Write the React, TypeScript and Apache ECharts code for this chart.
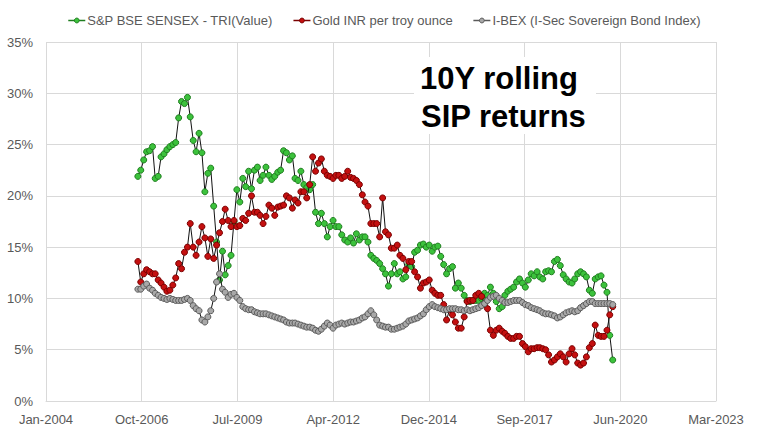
import React, { useEffect, useRef } from "react";
import * as echarts from "echarts";

// ---- data (values in %) ----
const seriesNames = [
  "S&P BSE SENSEX - TRI(Value)",
  "Gold INR per troy ounce",
  "I-BEX (I-Sec Sovereign Bond Index)",
];

// monthly observations, first one Sep-2006
const startYear = 2006;
const startMonth = 8; // 0-based (Sep)

const sensex = [
  21.9, 22.5, 23.5, 24.3, 24.4, 24.8, 21.7, 21.9, 23.8, 24.1,
  24.5, 24.8, 25.0, 25.2, 27.6, 29.2, 29.0, 29.6, 27.7, 25.4,
  24.3, 26.1, 24.2, 20.4, 22.2, 22.7, 19.0, 15.5, 11.8, 14.6,
  12.3, 13.2, 14.2, 17.5, 20.6, 19.4, 21.7, 20.9, 22.4, 20.7,
  22.5, 22.8, 21.5, 22.0, 22.8, 22.0, 21.6, 21.9, 22.3, 22.5,
  24.4, 24.2, 23.5, 23.9, 21.7, 21.5, 22.4, 21.1, 20.8, 20.6,
  21.1, 18.4, 17.3, 18.3, 17.3, 16.0, 17.0, 17.6, 17.0, 17.0,
  16.2, 15.7, 15.5, 15.9, 15.4, 16.3, 15.7, 16.0, 16.0, 15.5,
  14.2, 13.9, 13.7, 13.4, 12.9, 12.4, 11.2, 12.4, 13.4, 12.4,
  12.6, 11.9, 12.1, 13.3, 13.1, 14.5, 14.7, 15.2, 15.3, 15.0,
  15.2, 14.6, 15.0, 15.1, 14.1, 13.3, 12.4, 12.9, 13.1, 11.0,
  11.5, 11.0, 10.3, 9.8, 9.7, 9.8, 9.8, 9.8, 10.0, 10.5,
  10.3, 11.1, 10.5, 9.7, 9.0, 9.2, 10.3, 10.7, 10.9, 11.1,
  11.6, 11.9, 11.5, 11.1, 11.8, 12.4, 12.2, 12.6, 12.1, 11.9,
  12.6, 12.7, 12.6, 13.6, 13.8, 13.2, 12.3, 11.9, 11.6, 11.5,
  11.9, 12.4, 12.6, 12.4, 12.1, 10.8, 10.5, 11.9, 12.1, 12.2,
  11.3, 10.6, 6.4, 4.0,
];

const gold = [
  13.6, 11.6, 12.4, 12.8, 12.6, 12.4, 12.4, 11.8, 11.5, 11.1,
  10.7, 10.8, 11.3, 12.0, 13.4, 12.9, 14.5, 15.0, 17.3, 15.0,
  14.2, 15.5, 17.0, 15.9, 14.1, 15.8, 13.9, 15.2, 16.4, 17.5,
  18.7, 17.6, 17.0, 17.6, 17.0, 17.1, 17.8, 17.6, 18.3, 20.0,
  18.4, 18.4, 18.1, 17.3, 18.0, 19.1, 18.8, 18.1, 18.9, 19.0,
  19.1, 20.0, 19.8, 18.8, 19.6, 19.3, 20.4, 20.4, 19.8, 21.1,
  23.8, 22.4, 23.2, 23.6, 22.4, 22.0, 21.9, 21.7, 22.0, 22.0,
  21.7, 21.9, 22.4, 21.8, 21.7, 21.5, 21.1, 20.1, 19.4, 19.0,
  17.3, 17.3, 17.3, 16.0, 19.8, 16.5, 16.2, 14.9, 14.9, 15.2,
  14.2, 13.9, 12.8, 13.6, 13.6, 12.6, 12.1, 11.0, 11.5, 11.6,
  11.8, 10.8, 10.5, 10.3, 10.3, 9.4, 7.9, 8.9, 8.4, 7.7,
  7.1, 7.1, 8.2, 9.7, 9.8, 9.8, 10.3, 10.5, 10.2, 9.4,
  9.0, 6.9, 6.4, 6.9, 7.1, 6.8, 6.6, 6.3, 6.1, 6.1,
  6.3, 6.3, 5.6, 5.3, 4.8, 5.1, 5.1, 5.2, 5.2, 5.1,
  5.0, 4.5, 3.8, 4.0, 4.3, 4.6, 4.3, 3.8, 4.6, 5.1,
  4.5, 3.7, 3.5, 3.7, 4.3, 5.2, 5.6, 7.4, 6.4, 6.3,
  6.3, 6.9, 8.4, 9.2,
];

const ibex = [
  10.9, 10.9, 11.2, 11.4, 11.0, 10.8, 10.5, 10.3, 10.1, 10.0,
  9.9, 10.0, 9.9, 9.8, 9.8, 9.8, 9.9, 10.0, 9.8, 9.3,
  9.0, 8.8, 7.9, 7.7, 8.2, 8.8, 10.0, 11.6, 12.4, 10.9,
  10.6, 10.1, 10.4, 10.5, 10.1, 9.8, 9.2, 9.0, 8.9, 8.9,
  8.7, 8.6, 8.5, 8.5, 8.5, 8.4, 8.3, 8.2, 8.1, 8.0,
  7.9, 7.7, 7.6, 7.6, 7.6, 7.5, 7.4, 7.3, 7.2, 7.2,
  7.1, 6.9, 6.8, 7.0, 7.3, 7.6, 7.4, 7.1, 7.4, 7.5,
  7.6, 7.5, 7.6, 7.7, 7.7, 7.8, 7.9, 8.1, 8.2, 8.5,
  8.8, 8.4, 7.9, 7.4, 7.3, 7.2, 7.2, 7.0, 7.0, 7.1,
  7.2, 7.3, 7.5, 7.8, 7.9, 8.0, 8.1, 8.3, 8.5, 8.9,
  9.2, 9.4, 9.2, 9.1, 9.0, 8.9, 8.9, 9.0, 9.0, 9.0,
  8.9, 8.9, 8.8, 8.9, 8.8, 8.9, 9.0, 9.1, 9.3, 9.5,
  9.8, 10.1, 10.2, 10.3, 10.0, 9.8, 9.6, 9.6, 9.7, 9.8,
  9.8, 9.8, 9.6, 9.4, 9.3, 9.1, 9.0, 8.9, 8.8, 8.6,
  8.5, 8.5, 8.4, 8.3, 8.1, 8.2, 8.4, 8.6, 8.7, 8.8,
  8.7, 8.8, 9.1, 9.3, 9.5, 9.7, 9.7, 9.5, 9.5, 9.5,
  9.5, 9.5, 9.5, 9.4,
];

// x axis: day offset from 15-Jan-2004, ticks every 1000 days
const MONTHS = ["Jan", "Feb", "Mar", "Apr", "May", "Jun", "Jul", "Aug", "Sep", "Oct", "Nov", "Dec"];
const BASE = Date.UTC(2004, 0, 15);
const DAY = 86400000;
const X_MIN = 0;
const X_MAX = 7000;
const X_STEP = 1000;

function monthOffset(i: number): number {
  const y = startYear + Math.floor((startMonth + i) / 12);
  const m = (startMonth + i) % 12;
  return (Date.UTC(y, m, 1) - BASE) / DAY;
}
function fmtDate(v: number): string {
  const d = new Date(BASE + v * DAY);
  return MONTHS[d.getUTCMonth()] + "-" + d.getUTCFullYear();
}

const styles = [
  { fill: "#3cc23c", border: "#1f7d1f" },
  { fill: "#c41010", border: "#7a0000" },
  { fill: "#a8a8a8", border: "#5a5a5a" },
];

export default function App() {
  const ref = useRef<HTMLDivElement>(null);
  useEffect(() => {
    const chart = echarts.init(ref.current!, null, { renderer: "svg" });
    const all = [sensex, gold, ibex];
    const font = "Liberation Sans";
    chart.setOption({
      animation: false,
      backgroundColor: "#ffffff",
      grid: { left: 46, right: 52, top: 42, bottom: 36 },
      legend: {
        top: 9,
        left: "center",
        itemWidth: 17,
        itemHeight: 6,
        itemGap: 20,
        textStyle: { fontFamily: font, fontSize: 13, color: "#595959", padding: [0, 0, 0, -3] },
        data: seriesNames.map((n, k) => ({
          name: n,
          itemStyle: { color: styles[k].fill, borderColor: styles[k].border, borderWidth: 1 },
          lineStyle: { color: styles[k].border, width: 1.5 },
        })),
      },
      xAxis: {
        type: "value",
        min: X_MIN,
        max: X_MAX,
        interval: X_STEP,
        axisLine: { show: true, lineStyle: { color: "#d9d9d9", width: 1 } },
        axisTick: { show: false },
        splitLine: { show: true, lineStyle: { color: "#d9d9d9", width: 1 } },
        axisLabel: {
          formatter: (v: number) => fmtDate(v),
          color: "#595959",
          fontFamily: font,
          fontSize: 13,
          margin: 12,
          showMaxLabel: true,
          showMinLabel: true,
        },
      },
      yAxis: {
        type: "value",
        min: 0,
        max: 35,
        interval: 5,
        axisLine: { show: false },
        axisTick: { show: false },
        splitLine: { show: true, lineStyle: { color: "#d9d9d9", width: 1 } },
        axisLabel: {
          formatter: "{value}%",
          color: "#595959",
          fontFamily: font,
          fontSize: 13,
          margin: 13,
        },
      },
      graphic: [
        {
          type: "rect",
          shape: { x: 414, y: 57, width: 182, height: 77 },
          style: { fill: "#ffffff" },
          z: 10,
        },
        {
          type: "text",
          left: 420,
          top: 63,
          z: 11,
          style: { text: "10Y rolling", font: "bold 31px 'Liberation Sans'", fill: "#000" },
        },
        {
          type: "text",
          left: 421,
          top: 101,
          z: 11,
          style: { text: "SIP returns", font: "bold 31px 'Liberation Sans'", fill: "#000" },
        },
      ],
      series: all.map((vals, k) => ({
        type: "line",
        name: seriesNames[k],
        data: vals.map((v, i) => [monthOffset(i), v]),
        symbol: "circle",
        symbolSize: 6,
        showSymbol: true,
        showAllSymbol: true,
        lineStyle: { color: "#111111", width: 1 },
        itemStyle: { color: styles[k].fill, borderColor: styles[k].border, borderWidth: 1 },
        emphasis: { disabled: true },
        z: 2 + k,
      })),
    });
    return () => chart.dispose();
  }, []);
  return (
    <div
      ref={ref}
      style={{ position: "fixed", left: 0, top: 0, width: 768, height: 437, background: "#fff" }}
    />
  );
}
